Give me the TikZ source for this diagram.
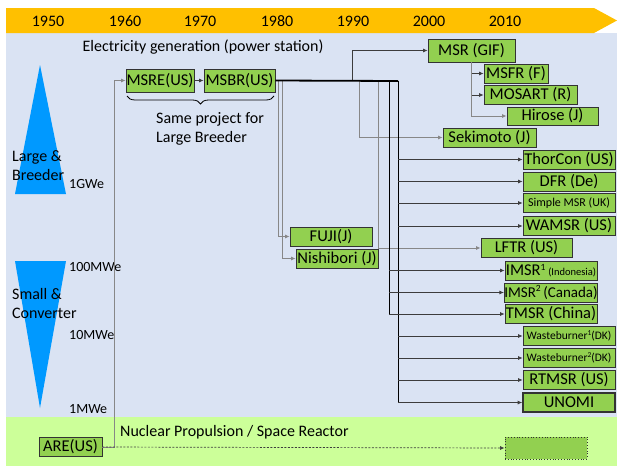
\documentclass[tikz,border=0pt]{standalone}
\usepackage{fontspec}
\setmainfont{Carlito}
\usetikzlibrary{arrows.meta,decorations.pathreplacing,calc}
\definecolor{bgblue}{RGB}{218,227,243}
\definecolor{banner}{RGB}{255,192,0}
\definecolor{bggreen}{RGB}{204,255,153}
\definecolor{nodegreen}{RGB}{146,208,80}
\definecolor{triblue}{RGB}{0,153,255}
\definecolor{lgray}{RGB}{135,135,135}
\definecolor{dgray}{RGB}{60,60,60}
\newcommand{\mysup}[1]{\raisebox{5.5pt}{\fontsize{9.5}{10}\selectfont #1}}
\newcommand{\mysupsm}[1]{\raisebox{4pt}{\fontsize{7.5}{8}\selectfont #1}}
\begin{document}
\begin{tikzpicture}[x=1pt,y=-1pt,
  box/.style={draw=black!80, fill=nodegreen, line width=0.8pt, inner sep=0pt,
    minimum height=19pt, font=\fontsize{16.5}{18}\selectfont},
  smallbox/.style={box, font=\fontsize{12}{14}\selectfont},
  arr/.style={-{Latex[length=4.5pt,width=4pt]}},
  conn/.style={draw=dgray, line width=0.7pt},
  gconn/.style={draw=lgray, line width=1pt},
  bus/.style={draw=black, line width=1pt},
  lbl/.style={inner sep=0pt, font=\fontsize{16}{19}\selectfont},
  scale lbl/.style={inner sep=0pt, anchor=west, font=\fontsize{14}{16}\selectfont},
]
\useasboundingbox (0,0) rectangle (617,466);
% backgrounds
\fill[bgblue] (6,33) rectangle (617,417);
\fill[bggreen] (6,417) rectangle (617,466);
\fill[banner] (6,8) -- (594,8) -- (617,20.5) -- (594,33) -- (6,33) -- cycle;
\foreach \yr/\xx in {1950/48,1960/125,1970/200,1980/277,1990/353,2000/429,2010/505}
  \node[lbl] (y\yr) at (\xx,21) {\yr};
\node[lbl] (elec) at (203,47) {Electricity generation (power station)};
\node[lbl, anchor=west] (nps) at (120,432) {Nuclear Propulsion / Space Reactor};
% triangles
\fill[triblue] (40,65) -- (66,194) -- (15,194) -- cycle;
\fill[triblue] (15,261) -- (66,261) -- (40,408) -- cycle;
\node[lbl, anchor=west, align=left] (lb) at (12,166) {Large \&\\Breeder};
\node[lbl, anchor=west, align=left] (sc) at (12,303) {Small \&\\Converter};
\node[scale lbl] (g1) at (69,184) {1GWe};
\node[scale lbl] (m100) at (69,267) {100MWe};
\node[scale lbl] (m10) at (69,335) {10MWe};
\node[scale lbl] (m1) at (69,409) {1MWe};
% nodes
\node[box, minimum width=68pt, minimum height=23pt] (MSRE) at (160,80.5) {MSRE(US)};
\node[box, minimum width=71pt, minimum height=23pt] (MSBR) at (239.5,80.5) {MSBR(US)};
\node[box, minimum width=87pt, minimum height=23pt] (GIF) at (471.5,50.5) {MSR (GIF)};
\node[box, minimum width=64pt] (MSFR) at (516,73.5) {MSFR (F)};
\node[box, minimum width=93pt] (MOSART) at (530.5,95) {MOSART (R)};
\node[box, minimum width=91pt, minimum height=18pt] (Hirose) at (552.5,116) {Hirose (J)};
\node[box, minimum width=93pt] (Seki) at (489.5,137.5) {Sekimoto (J)};
\node[box, minimum width=92pt] (Thor) at (569,159.5) {ThorCon (US)};
\node[box, minimum width=92pt] (DFR) at (569,181.5) {DFR (De)};
\node[smallbox, minimum width=92pt] (Simple) at (569,203) {Simple MSR (UK)};
\node[box, minimum width=92pt] (WAMSR) at (569,226) {WAMSR (US)};
\node[box, minimum width=91pt] (LFTR) at (526.5,248) {LFTR (US)};
\node[box, minimum width=82pt] (FUJI) at (331,236.5) {FUJI(J)};
\node[box, minimum width=82pt] (Nishi) at (337,258.5) {Nishibori (J)};
\node[box, minimum width=92pt] (IMSRa) at (551,270.5) {IMSR\mysup{1}\,{\fontsize{10.5}{12}\selectfont(Indonesia)}};
\node[box, minimum width=92pt, font=\fontsize{15}{18}\selectfont] (IMSRb) at (551,292.5) {IMSR\mysup{2}\,(Canada)};
\node[box, minimum width=92pt] (TMSR) at (551,314) {TMSR (China)};
\node[box, minimum width=92pt, font=\fontsize{11.5}{13}\selectfont] (WBa) at (569,336) {Wasteburner\mysupsm{1}(DK)};
\node[box, minimum width=92pt, font=\fontsize{11.5}{13}\selectfont] (WBb) at (569,358) {Wasteburner\mysupsm{2}(DK)};
\node[box, minimum width=92pt] (RTMSR) at (569,380) {RTMSR (US)};
\node[box, minimum width=92pt, line width=1.6pt] (UNOMI) at (569,402.5) {UNOMI};
\node[box, minimum width=82pt, minimum height=22pt, dotted, line width=1pt] (Dash) at (546,448) {};
\node[box, minimum width=63pt, minimum height=19pt] (ARE) at (70.5,447) {ARE(US)};
% brace and note
\draw[line width=0.8pt, decorate, decoration={brace, mirror, amplitude=8pt}] (127,96) -- (274,96);
\node[lbl, anchor=west, align=left] (same) at (156,129) {Same project for\\Large Breeder};
% coordinates
\coordinate (jA) at (114,447);
\coordinate (busA) at (389,81);
\coordinate (busB) at (398,81);
\coordinate (t1) at (352,81);
\coordinate (t2) at (359,81);
\coordinate (t3) at (378,81);
\coordinate (tf) at (278,81);
\coordinate (tn) at (282,81);
% connectors
\draw[gconn, arr] (ARE.east) -- (jA) |- (MSRE.west);
\draw[conn, dashed, dash pattern=on 2pt off 1.5pt, arr] (ARE.east) -- (Dash.west);
\draw[conn, arr] (MSRE.east) -- (MSBR.west);
\draw[gconn, arr] (tf) |- (FUJI.west);
\draw[gconn, arr] (tn) |- (Nishi.west);
\draw[conn, arr] (t1) |- (GIF.west);
\draw[gconn, arr] (t2) |- (Seki.west);
\draw[gconn, arr] (t3) |- (LFTR.west);
\draw[bus] (busA) -- (busA |- TMSR.west);
\draw[bus] (busB) -- (busB |- UNOMI.west);
\draw[draw=black, line width=1.8pt] (MSBR.east) -- (busB);
\foreach \n in {IMSRa,IMSRb,TMSR}
  \draw[conn, arr] (busA |- \n.west) -- (\n.west);
\foreach \n in {Thor,DFR,Simple,WAMSR,WBa,WBb,RTMSR,UNOMI}
  \draw[conn, arr] (busB |- \n.west) -- (\n.west);
\draw[conn, arr] (GIF.south) |- (MSFR.west);
\draw[conn, arr] (GIF.south) |- (MOSART.west);
\draw[gconn, arr] (GIF.south) |- (Hirose.west);
\end{tikzpicture}
\end{document}
